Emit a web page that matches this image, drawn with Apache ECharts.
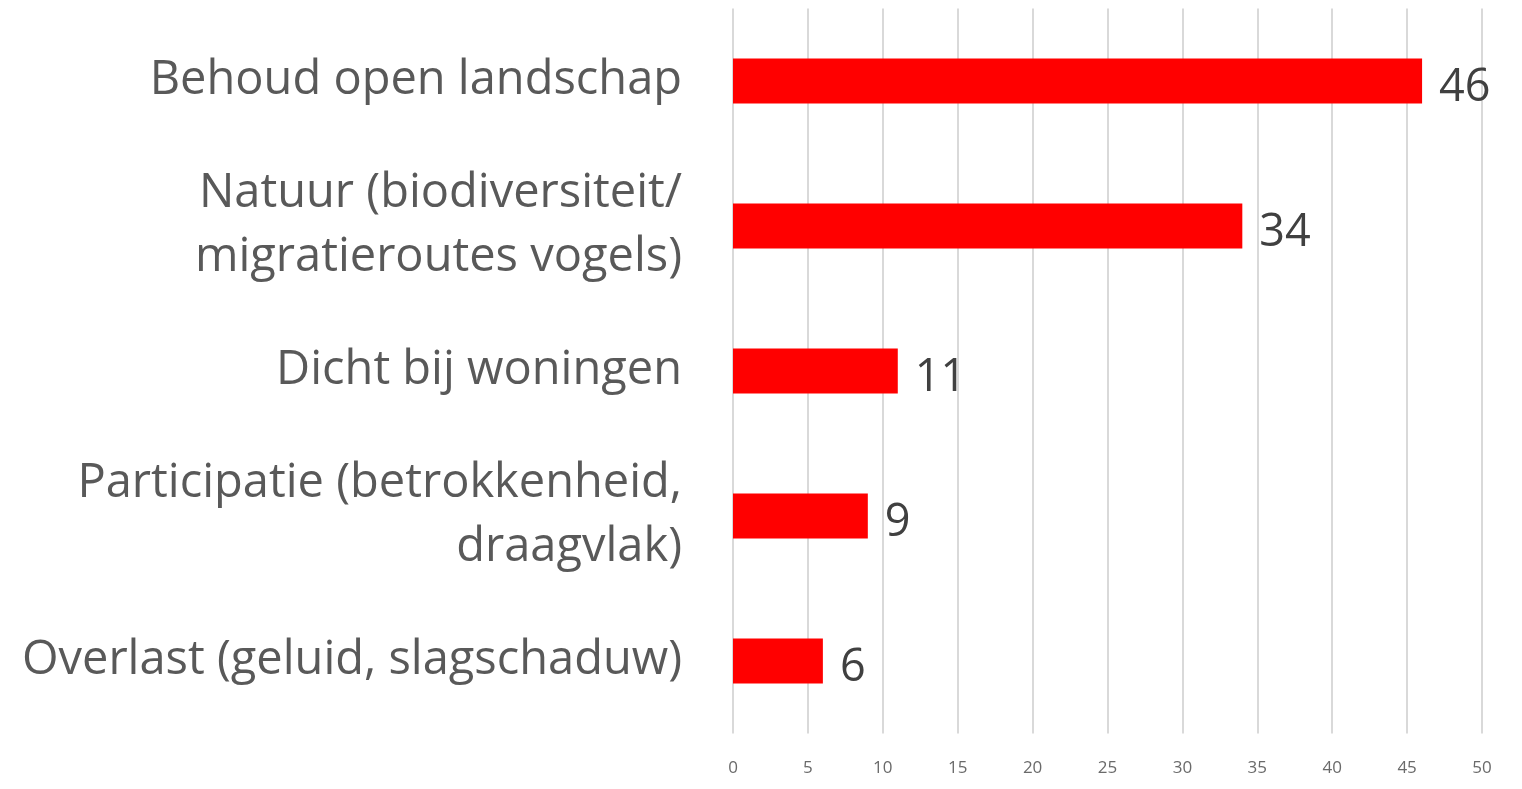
<!DOCTYPE html>
<html><head><meta charset="utf-8">
<script src="https://cdn.jsdelivr.net/npm/echarts@6/dist/echarts.min.js"></script>
<style>html,body{margin:0;padding:0;background:#fff}#c{width:1522px;height:789px}</style>
</head><body><div id="c"></div>
<script>
const categories = [
  "Behoud open landschap",
  "Natuur (biodiversiteit/\nmigratieroutes vogels)",
  "Dicht bij woningen",
  "Participatie (betrokkenheid,\ndraagvlak)",
  "Overlast (geluid, slagschaduw)"
];
const values = [46, 34, 11, 9, 6];
const tickLabels = ["0","5","10","15","20","25","30","35","40","45","50"];

const chart = echarts.init(document.getElementById('c'), null, {renderer:'canvas'});
chart.setOption({
  animation:false,
  grid:{left:733, right:40, top:8.5, bottom:55.5, containLabel:false},
  xAxis:{
    type:'value', min:0, max:50, interval:5,
    axisLine:{show:false}, axisTick:{show:false},
    splitLine:{show:true, lineStyle:{color:'#d9d9d9', width:2}},
    axisLabel:{margin:26, color:'#6a6a6a', fontSize:17, fontFamily:'Open Sans',
      formatter:(v)=>tickLabels[Math.round(v/5)]}
  },
  yAxis:{
    type:'category', data:categories, inverse:true,
    axisLine:{show:false}, axisTick:{show:false},
    axisLabel:{margin:51, color:'#595959', fontSize:47, fontFamily:'Open Sans', align:'right', lineHeight:64, padding:[12,0,0,0]}
  },
  series:[{
    type:'bar', data:values, barWidth:'31%',
    itemStyle:{color:'#ff0000'},
    label:{show:true, position:'right', distance:17, color:'#404040', fontSize:45, fontFamily:'Open Sans', offset:[0,7]}
  }]
});
</script></body></html>
